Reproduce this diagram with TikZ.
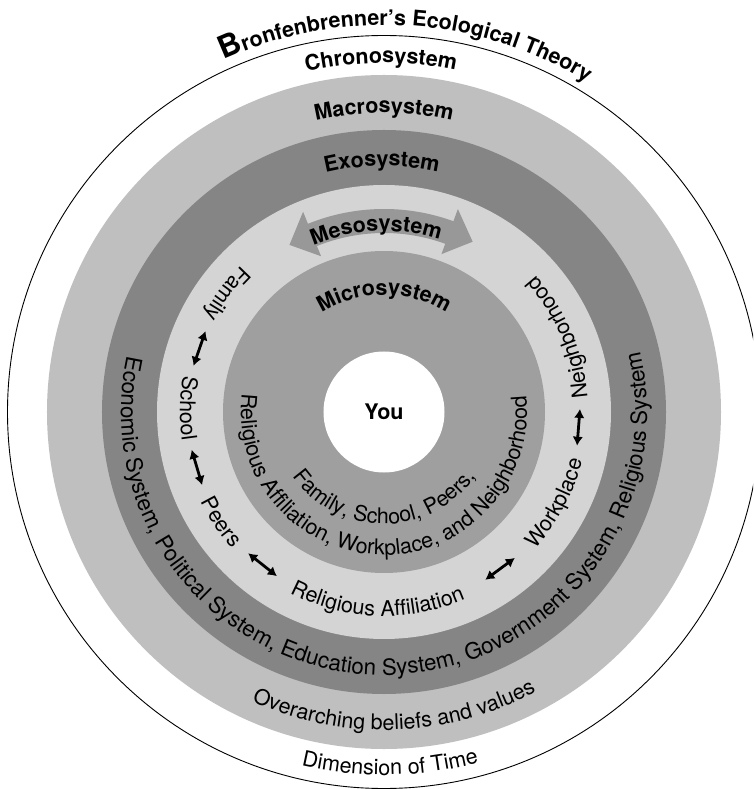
\documentclass[tikz,border=0pt]{standalone}
\usepackage{fontspec}
\setmainfont{TeX Gyre Heros}
\usetikzlibrary{arrows.meta,calc,decorations.text}
\definecolor{macrogray}{RGB}{190,191,190}
\definecolor{exogray}{RGB}{133,133,133}
\definecolor{mesogray}{RGB}{212,212,212}
\definecolor{microgray}{RGB}{158,159,158}
\definecolor{arrowgray}{RGB}{152,152,152}
\newcommand{\bfont}{\bfseries\fontsize{21.5}{26}\selectfont}
\newcommand{\rfont}{\fontsize{21.5}{26}\selectfont}
\newcommand{\wfont}{\fontsize{22.4}{27}\selectfont}
\newcommand{\bigB}{\bfseries\fontsize{31}{36}\selectfont}
\tikzset{
  ringline/.style={draw=black, line width=0.9pt},
  linkArrow/.style={{Latex[length=9pt,width=10.5pt]}-{Latex[length=9pt,width=10.5pt]}, line width=2.8pt},
  arctext/.style={decorate, decoration={text along path, text align=center, text={#1}}}
}
% text over the top of a ring, read left to right
\newcommand{\TopText}[4]{%
  \path[arctext={#4}] ({#2+#3}:#1) arc[start angle={#2+#3}, end angle={#2-#3}, radius=#1];}
% text under the bottom of a ring, letters facing the centre
\newcommand{\BotText}[4]{%
  \path[arctext={#4}] ({#2-#3}:#1) arc[start angle={#2-#3}, end angle={#2+#3}, radius=#1];}

\begin{document}
\begin{tikzpicture}[x=1pt,y=1pt]
  \useasboundingbox (-384,-377) rectangle (369,412);
  \clip (-384,-377) rectangle (369,412);
  % rings, outside in
  \filldraw[fill=white, ringline] (0,0) circle[radius=376.5];
  \fill[macrogray] (0,0) circle[radius=337];
  \fill[exogray] (0,0) circle[radius=282];
  \fill[mesogray] (0,0) circle[radius=227];
  \fill[microgray] (0,0) circle[radius=161];
  \node[circle, fill=white, minimum size=121pt, inner sep=0pt, font=\bfont] (you) at (0,0) {You};
  % Mesosystem double arrow
  \fill[arrowgray] (112:179) arc[start angle=112, end angle=70, radius=179]
    -- (70:168) -- (62.5:192) -- (70:216) -- (70:203)
    arc[start angle=70, end angle=112, radius=203]
    -- (112:216) -- (119.5:192) -- (112:168) -- cycle;
  % system names
  \TopText{387}{86.5}{40}{|\bigB|B|\bfont|ronfenbrenner's Ecological Theory}
  \TopText{349}{90.5}{30}{|\bfont|Chronosystem}
  \TopText{299}{90}{35}{|\bfont|Macrosystem}
  \TopText{246}{90.5}{35}{|\bfont|Exosystem}
  \TopText{181}{92.5}{40}{|\bfont|Mesosystem}
  \TopText{117}{90}{60}{|\bfont|Microsystem}
  % descriptions along the bottom
  \BotText{363}{271}{30}{|\rfont|Dimension of Time}
  \BotText{318}{272}{40}{|\rfont|Overarching beliefs and values}
  \BotText{263}{270.5}{115}{|\wfont|Economic System, Political System, Education System, Government System, Religious System}
  \BotText{143}{269.5}{105}{|\rfont|Religious Affiliation, Workplace, and Neighborhood}
  \BotText{112}{270}{75}{|\rfont|Family, School, Peers,}
  % mesosystem links
  \BotText{204}{143}{30}{|\rfont|Family}
  \BotText{204}{179}{30}{|\rfont|School}
  \BotText{204}{214}{30}{|\rfont|Peers}
  \BotText{204}{268}{40}{|\rfont|Religious Affiliation}
  \BotText{204}{332}{30}{|\rfont|Workplace}
  \BotText{204}{383}{30}{|\rfont|Neighborhood}
  \foreach \a in {161,196.5,231.5,306.5,355.5}{
    \draw[linkArrow] ({\a+5.4}:196) -- ({\a-5.4}:196);
  }
\end{tikzpicture}
\end{document}
